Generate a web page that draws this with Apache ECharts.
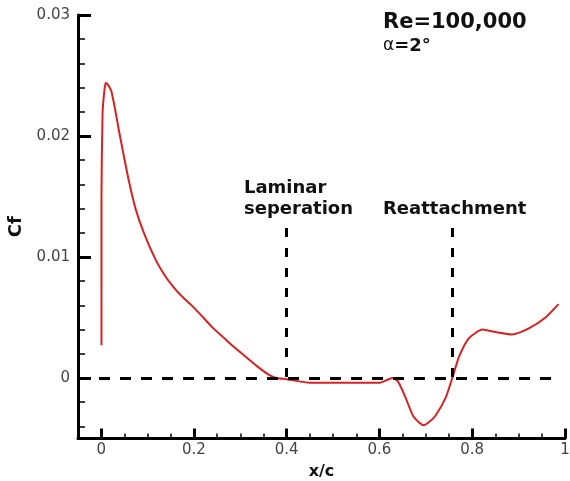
<!DOCTYPE html>
<html>
<head>
<meta charset="utf-8">
<script src="https://cdn.jsdelivr.net/npm/echarts@6/dist/echarts.min.js"></script>
<style>html,body{margin:0;padding:0;background:#fff}#c{width:570px;height:481px}</style>
</head>
<body>
<div id="c"></div>
<script>
// x/c positions along the chord
const xc = [0.0006, 0.0006, 0.003, 0.007, 0.010, 0.013, 0.017, 0.022, 0.030, 0.038, 0.048, 0.059, 0.074, 0.092, 0.117, 0.135, 0.152, 0.170, 0.195, 0.220, 0.242, 0.265, 0.285, 0.310, 0.335, 0.360, 0.378, 0.40, 0.45, 0.50, 0.55, 0.60, 0.614, 0.628, 0.640, 0.655, 0.672, 0.686, 0.695, 0.705, 0.721, 0.743, 0.757, 0.772, 0.793, 0.822, 0.850, 0.886, 0.922, 0.958, 0.986];
// skin friction coefficient Cf
const cf = [0.0027, 0.0150, 0.0219, 0.0238, 0.0244, 0.0243, 0.0241, 0.0237, 0.0222, 0.0205, 0.0185, 0.0164, 0.0140, 0.0120, 0.0098, 0.0086, 0.0077, 0.0069, 0.0060, 0.0050, 0.0041, 0.0033, 0.0026, 0.0018, 0.0010, 0.0003, 0.0000, -0.0001, -0.0004, -0.0004, -0.0004, -0.0004, -0.0002, 0.0000, -0.0003, -0.0015, -0.0031, -0.0037, -0.0039, -0.0037, -0.0031, -0.0016, 0.0000, 0.0018, 0.0033, 0.0040, 0.0038, 0.0036, 0.0041, 0.0050, 0.0061];
// axis ticks
const xMajor = [0, 0.2, 0.4, 0.6, 0.8, 1];
const xMinor = [-0.05, 0.05, 0.1, 0.15, 0.25, 0.3, 0.35, 0.45, 0.5, 0.55, 0.65, 0.7, 0.75, 0.85, 0.9, 0.95];
const yMajor = [0, 0.01, 0.02, 0.03];
const yMinor = [-0.004, -0.002, 0.002, 0.004, 0.006, 0.008, 0.012, 0.014, 0.016, 0.018, 0.022, 0.024, 0.026, 0.028];
// annotation lines
const separationX = 0.4;
const reattachX = 0.757;
const markerTop = 0.0124;
const zeroLineEnd = 0.98;

const chart = echarts.init(document.getElementById('c'), null, {renderer: 'canvas'});
const lab = {fontFamily: 'DejaVu Sans', fontSize: 15, color: '#444'};
const fmt = v => (v === 0 ? '0' : (Math.abs(v - 1) < 1e-9 ? '1' : String(+v.toFixed(2))));
const dashed = {color: '#000', width: 3, type: [11, 10]};
const vdashed = {color: '#000', width: 3, type: [9, 11]};
const bold = {fontFamily: 'DejaVu Sans', fontWeight: 'bold', fill: '#111'};

chart.setOption({
  animation: false,
  backgroundColor: '#fff',
  grid: {left: 78, right: 5, top: 15, bottom: 42.5, containLabel: false, outerBoundsMode: 'none'},
  xAxis: [
    {
      type: 'value', min: -0.05, max: 1, position: 'bottom',
      name: 'x/c', nameLocation: 'middle', nameGap: 25,
      nameTextStyle: {fontFamily: 'DejaVu Sans', fontWeight: 'bold', fontSize: 16, color: '#111'},
      axisLine: {onZero: false, lineStyle: {color: '#000', width: 3}},
      axisTick: {inside: true, length: 10, customValues: xMajor, lineStyle: {color: '#000', width: 3}},
      axisLabel: Object.assign({customValues: xMajor, margin: 4, formatter: fmt, showMaxLabel: true}, lab),
      splitLine: {show: false}
    },
    {
      type: 'value', min: -0.05, max: 1, position: 'bottom',
      axisLine: {show: false, onZero: false},
      axisTick: {inside: true, length: 5, customValues: xMinor, lineStyle: {color: '#000', width: 1.5}},
      axisLabel: {show: false},
      splitLine: {show: false}
    }
  ],
  yAxis: [
    {
      type: 'value', min: -0.005, max: 0.03, position: 'left',
      name: 'Cf', nameLocation: 'middle', nameGap: 50,
      nameTextStyle: {fontFamily: 'DejaVu Sans', fontWeight: 'bold', fontSize: 18, color: '#111'},
      axisLine: {onZero: false, lineStyle: {color: '#000', width: 3}},
      axisTick: {inside: true, length: 13, customValues: yMajor, lineStyle: {color: '#000', width: 3}},
      axisLabel: Object.assign({customValues: yMajor, margin: 8, formatter: fmt}, lab),
      splitLine: {show: false}
    },
    {
      type: 'value', min: -0.005, max: 0.03, position: 'left',
      axisLine: {show: false, onZero: false},
      axisTick: {inside: true, length: 7, customValues: yMinor, lineStyle: {color: '#000', width: 1.5}},
      axisLabel: {show: false},
      splitLine: {show: false}
    }
  ],
  series: [
    {
      type: 'line', xAxisIndex: 0, yAxisIndex: 0,
      data: xc.map((x, i) => [x, cf[i]]),
      showSymbol: false, smooth: 0.2,
      lineStyle: {color: '#d62222', width: 2},
      z: 3,
      markLine: {
        silent: true, symbol: ['none', 'none'], animation: false,
        label: {show: false},
        data: [
          [{coord: [-0.05, 0], lineStyle: dashed}, {coord: [zeroLineEnd, 0]}],
          [{coord: [separationX, markerTop], lineStyle: vdashed}, {coord: [separationX, 0]}],
          [{coord: [reattachX, markerTop], lineStyle: vdashed}, {coord: [reattachX, 0]}]
        ]
      }
    }
  ],
  graphic: [
    {type: 'text', left: 383, top: 12, style: Object.assign({text: 'Re=100,000', fontSize: 21}, bold)},
    {type: 'text', left: 383, top: 37, style: {text: '{a|α}{b|=2°}', rich: {a: {fontFamily: 'DejaVu Sans', fontSize: 17, fill: '#111'}, b: {fontFamily: 'DejaVu Sans', fontWeight: 'bold', fontSize: 18, fill: '#111'}}}},
    {type: 'text', left: 244, top: 179, style: Object.assign({text: 'Laminar', fontSize: 18}, bold)},
    {type: 'text', left: 244, top: 200, style: Object.assign({text: 'seperation', fontSize: 18}, bold)},
    {type: 'text', left: 383, top: 200, style: Object.assign({text: 'Reattachment', fontSize: 18}, bold)}
  ]
});
</script>
</body>
</html>
